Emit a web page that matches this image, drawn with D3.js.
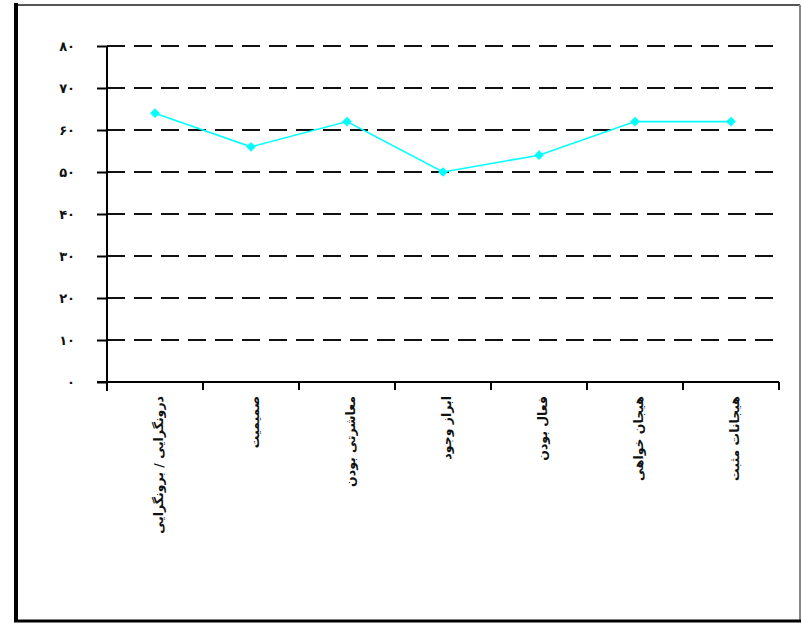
<!DOCTYPE html>
<html>
<head>
<meta charset="utf-8">
<script src="https://cdn.jsdelivr.net/npm/d3@7"></script>
<style>
  html, body { margin: 0; padding: 0; background: #fff; }
  svg { display: block; }
  text { font-family: "DejaVu Sans", "Noto Sans", sans-serif; fill: #111; }
</style>
</head>
<body>
<svg id="chart" width="802" height="623"></svg>
<script>
// Extraversion facets and their scores
const categories = [
  "درونگرایی / برونگرایی",
  "صمیمیت",
  "معاشرتی بودن",
  "ابراز وجود",
  "فعال بودن",
  "هیجان خواهی",
  "هیجانات مثبت"
];
const scores = [64, 56, 62, 50, 54, 62, 62];
const yTicks = [0, 10, 20, 30, 40, 50, 60, 70, 80];
const yTickLabels = ["۰", "۱۰", "۲۰", "۳۰", "۴۰", "۵۰", "۶۰", "۷۰", "۸۰"];

const svg = d3.select("#chart");

// Outer frame: heavy left and bottom edges, light top and right edges
const frame = svg.append("g");
frame.append("line").attr("x1", 16).attr("y1", 5).attr("x2", 800).attr("y2", 5)
  .attr("stroke", "#555").attr("stroke-width", 2);
frame.append("line").attr("x1", 800).attr("y1", 5).attr("x2", 800).attr("y2", 621)
  .attr("stroke", "#888").attr("stroke-width", 2);
frame.append("line").attr("x1", 16).attr("y1", 3).attr("x2", 16).attr("y2", 622)
  .attr("stroke", "#000").attr("stroke-width", 4);
frame.append("line").attr("x1", 14).attr("y1", 621).attr("x2", 801).attr("y2", 621)
  .attr("stroke", "#000").attr("stroke-width", 3);

const plot = { left: 107, right: 779, top: 46, bottom: 382 };

const x = d3.scaleBand()
  .domain(categories)
  .range([plot.left, plot.right])
  .padding(0);

const y = d3.scaleLinear()
  .domain([0, 80])
  .range([plot.bottom, plot.top]);

// Dashed horizontal gridlines
svg.append("g")
  .selectAll("line")
  .data(yTicks.filter(d => d > 0))
  .join("line")
  .attr("x1", plot.left)
  .attr("x2", plot.right)
  .attr("y1", d => y(d))
  .attr("y2", d => y(d))
  .attr("stroke", "#111")
  .attr("stroke-width", 2)
  .attr("stroke-dasharray", "18,9");

// Y axis
const yAxis = svg.append("g")
  .attr("transform", `translate(${plot.left},0)`)
  .call(d3.axisLeft(y)
    .tickValues(yTicks)
    .tickSize(10)
    .tickPadding(22)
    .tickFormat((d, i) => yTickLabels[i]));
yAxis.select(".domain")
  .attr("d", `M0,${plot.top}V${plot.bottom + 9}`)
  .attr("stroke", "#000").attr("stroke-width", 2);
yAxis.selectAll(".tick line").attr("stroke", "#000").attr("stroke-width", 2);
yAxis.selectAll(".tick text")
  .attr("font-size", 13)
  .attr("font-weight", "bold")
  .style("font-family", "'DejaVu Sans', sans-serif");

// X axis with ticks on category boundaries
const xAxis = svg.append("g")
  .attr("transform", `translate(0,${plot.bottom})`);
xAxis.append("line")
  .attr("x1", plot.left - 10).attr("x2", plot.right)
  .attr("y1", 0).attr("y2", 0)
  .attr("stroke", "#000").attr("stroke-width", 2);
const boundaries = categories.map(c => x(c)).concat([x(categories[categories.length - 1]) + x.bandwidth()]);
xAxis.selectAll("line.tk")
  .data(boundaries)
  .join("line")
  .attr("class", "tk")
  .attr("x1", d => d).attr("x2", d => d)
  .attr("y1", 0).attr("y2", 8)
  .attr("stroke", "#000").attr("stroke-width", 2);

// Vertical category labels, reading downward from under the axis
xAxis.selectAll("text.cat")
  .data(categories)
  .join("text")
  .attr("class", "cat")
  .attr("transform", d => `translate(${x(d) + x.bandwidth() / 2 + 4},14) rotate(-90)`)
  .attr("text-anchor", "end")
  .attr("dy", "0.35em")
  .attr("font-size", 12.5)
  .attr("font-weight", "bold")
  .text(d => d);

// Score line with diamond markers
const line = d3.line()
  .x((d, i) => x(categories[i]) + x.bandwidth() / 2)
  .y(d => y(d));

svg.append("path")
  .datum(scores)
  .attr("d", line)
  .attr("fill", "none")
  .attr("stroke", "#00FFFF")
  .attr("stroke-width", 1.6);

svg.append("g")
  .selectAll("path")
  .data(scores)
  .join("path")
  .attr("d", d3.symbol().type(d3.symbolDiamond2).size(60))
  .attr("transform", (d, i) => `translate(${x(categories[i]) + x.bandwidth() / 2},${y(d)})`)
  .attr("fill", "#00FFFF");
</script>
</body>
</html>
